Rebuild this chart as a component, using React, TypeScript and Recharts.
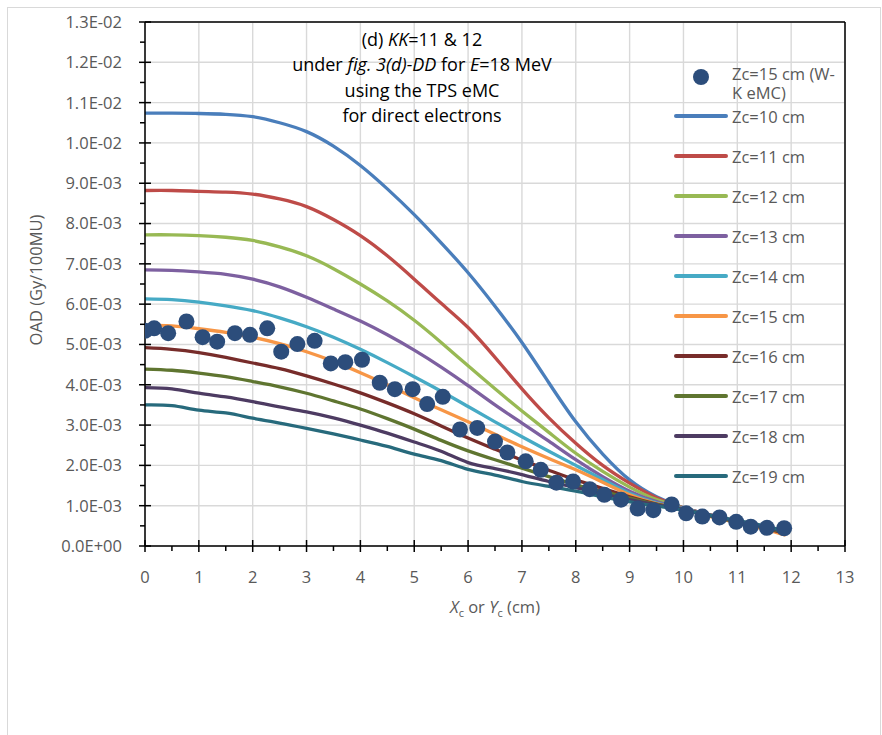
import React from "react";
import {
  CartesianGrid,
  ComposedChart,
  Label,
  Line,
  ReferenceLine,
  Scatter,
  XAxis,
  YAxis
} from "recharts";

const FONT = "'Open Sans', 'Noto Sans', sans-serif";
const TEXT = "#595959";

// OAD values are kept in units of 1E-03 Gy/100MU
const curveX = [0, 0.5, 1, 1.5, 2, 2.5, 3, 3.5, 4, 4.5, 5, 5.5, 6, 6.5, 7, 7.5, 8, 8.5, 9, 9.5, 10, 10.5, 11, 11.5, 11.9];

const zc10 = [10.74, 10.74, 10.73, 10.71, 10.65, 10.5, 10.28, 9.92, 9.44, 8.86, 8.22, 7.52, 6.78, 5.95, 5.05, 4.05, 3.08, 2.28, 1.64, 1.22, 0.95, 0.77, 0.6, 0.45, 0.31];
const zc11 = [8.82, 8.82, 8.8, 8.78, 8.73, 8.61, 8.42, 8.1, 7.7, 7.2, 6.62, 6.02, 5.42, 4.68, 3.9, 3.18, 2.55, 2.0, 1.56, 1.2, 0.95, 0.77, 0.6, 0.45, 0.3];
const zc12 = [7.72, 7.72, 7.7, 7.66, 7.58, 7.42, 7.2, 6.88, 6.5, 6.08, 5.6, 5.05, 4.47, 3.9, 3.35, 2.82, 2.3, 1.85, 1.46, 1.15, 0.94, 0.76, 0.6, 0.45, 0.3];
const zc13 = [6.85, 6.84, 6.8, 6.74, 6.62, 6.43, 6.17, 5.88, 5.58, 5.24, 4.86, 4.44, 3.98, 3.5, 3.05, 2.6, 2.14, 1.72, 1.36, 1.1, 0.93, 0.76, 0.6, 0.45, 0.3];
const zc14 = [6.13, 6.11, 6.05, 5.96, 5.84, 5.66, 5.44, 5.18, 4.88, 4.55, 4.2, 3.84, 3.46, 3.08, 2.71, 2.35, 2.0, 1.65, 1.31, 1.07, 0.92, 0.76, 0.6, 0.45, 0.3];
const zc15 = [5.48, 5.46, 5.39, 5.3, 5.18, 5.02, 4.82, 4.58, 4.3, 4.0, 3.68, 3.38, 3.08, 2.77, 2.46, 2.17, 1.89, 1.58, 1.27, 1.05, 0.9, 0.73, 0.58, 0.42, 0.27];
const zc16 = [4.92, 4.88, 4.8, 4.68, 4.54, 4.4, 4.22, 4.02, 3.8, 3.55, 3.28, 2.98, 2.68, 2.4, 2.13, 1.88, 1.64, 1.43, 1.22, 1.04, 0.9, 0.75, 0.6, 0.45, 0.31];
const zc17 = [4.39, 4.36, 4.29, 4.2, 4.08, 3.95, 3.79, 3.6, 3.4, 3.16, 2.9, 2.62, 2.36, 2.14, 1.93, 1.72, 1.52, 1.35, 1.19, 1.03, 0.9, 0.75, 0.6, 0.46, 0.32];
const zc18 = [3.93, 3.9, 3.79, 3.7, 3.58, 3.45, 3.33, 3.18, 3.0, 2.8, 2.58, 2.35, 2.07, 1.92, 1.77, 1.6, 1.45, 1.3, 1.15, 1.02, 0.9, 0.76, 0.62, 0.48, 0.34];
const zc19 = [3.5, 3.48, 3.37, 3.3, 3.17, 3.05, 2.92, 2.78, 2.63, 2.47, 2.28, 2.12, 1.9, 1.76, 1.6, 1.48, 1.36, 1.22, 1.1, 0.99, 0.89, 0.76, 0.63, 0.5, 0.36];

// W-K eMC points at Zc=15 cm
const wkX = [0, 0.17, 0.43, 0.77, 1.07, 1.34, 1.67, 1.95, 2.27, 2.53, 2.83, 3.15, 3.45, 3.72, 4.03, 4.36, 4.64, 4.97, 5.24, 5.53, 5.85, 6.17, 6.5, 6.73, 7.07, 7.35, 7.64, 7.95, 8.26, 8.53, 8.84, 9.15, 9.44, 9.78, 10.05, 10.35, 10.67, 10.98, 11.25, 11.55, 11.87];
const wkY = [5.34, 5.4, 5.28, 5.57, 5.18, 5.07, 5.28, 5.24, 5.4, 4.82, 5.01, 5.09, 4.53, 4.56, 4.62, 4.05, 3.89, 3.89, 3.52, 3.7, 2.89, 2.93, 2.59, 2.32, 2.1, 1.89, 1.57, 1.6, 1.41, 1.27, 1.15, 0.93, 0.89, 1.03, 0.81, 0.73, 0.71, 0.6, 0.48, 0.45, 0.44];

const seriesNames = ["Zc=10 cm", "Zc=11 cm", "Zc=12 cm", "Zc=13 cm", "Zc=14 cm", "Zc=15 cm", "Zc=16 cm", "Zc=17 cm", "Zc=18 cm", "Zc=19 cm"];
const seriesColors = ["#4A7EBB", "#BE4B48", "#98B954", "#7D60A0", "#46AAC5", "#F79646", "#772C2A", "#5F7530", "#4D3B62", "#276A7C"];
const seriesValues = [zc10, zc11, zc12, zc13, zc14, zc15, zc16, zc17, zc18, zc19];
const scatterName = "Zc=15 cm (W-K eMC)";
const scatterColor = "#2C4D7B";

const xTicks = [0, 0.5, 1, 1.5, 2, 2.5, 3, 3.5, 4, 4.5, 5, 5.5, 6, 6.5, 7, 7.5, 8, 8.5, 9, 9.5, 10, 10.5, 11, 11.5, 12, 12.5, 13];
const xMajor = [0, 1, 2, 3, 4, 5, 6, 7, 8, 9, 10, 11, 12, 13];
const yTicks = [0, 0.5, 1, 1.5, 2, 2.5, 3, 3.5, 4, 4.5, 5, 5.5, 6, 6.5, 7, 7.5, 8, 8.5, 9, 9.5, 10, 10.5, 11, 11.5, 12, 12.5, 13];
const yMajor = [0, 1, 2, 3, 4, 5, 6, 7, 8, 9, 10, 11, 12, 13];

const curveTable = curveX.map((x, i) => {
  const row: Record<string, number> = { x };
  seriesValues.forEach((vals, s) => {
    row[`s${s}`] = vals[i];
  });
  return row;
});

const scatterTable = wkX.map((x, i) => ({ x, y: wkY[i] }));

function formatOad(v: number): string {
  return (v / 1000)
    .toExponential(1)
    .toUpperCase()
    .replace(/E([+-])(\d)$/, "E$10$2");
}

function XTick(props: any) {
  const { x, y, payload } = props;
  const major = Number.isInteger(payload.value);
  return (
    <g>
      <line x1={x} x2={x} y1={major ? y - 6 : y} y2={major ? y + 6 : y + 5} stroke="#000" strokeWidth={1.5} />
      {major && (
        <text x={x} y={y + 37} textAnchor="middle" fill={TEXT} fontSize={16.5} fontFamily={FONT}>
          {payload.value}
        </text>
      )}
    </g>
  );
}

function YTick(props: any) {
  const { x, y, payload } = props;
  const major = Number.isInteger(payload.value);
  return (
    <g>
      <line x1={major ? x - 6 : x - 5} x2={major ? x + 6 : x} y1={y} y2={y} stroke="#000" strokeWidth={1.5} />
      {major && (
        <text x={x - 23} y={y} dy="0.36em" textAnchor="end" fill={TEXT} fontSize={16.5} fontFamily={FONT}>
          {formatOad(payload.value)}
        </text>
      )}
    </g>
  );
}

function XTitle(props: any) {
  const vb = props.viewBox;
  return (
    <text x={vb.x + vb.width / 2} y={vb.y + 67} textAnchor="middle" fill={TEXT} fontSize={16.5} fontFamily={FONT}>
      <tspan fontStyle="italic">X</tspan>
      <tspan fontSize={11} dy={4}>c</tspan>
      <tspan dy={-4}> or </tspan>
      <tspan fontStyle="italic">Y</tspan>
      <tspan fontSize={11} dy={4}>c</tspan>
      <tspan dy={-4}> (cm)</tspan>
    </text>
  );
}

function YTitle(props: any) {
  const vb = props.viewBox;
  const cx = vb.x + 36;
  const cy = vb.y + vb.height / 2 - 4;
  return (
    <text x={cx} y={cy} dy="0.36em" textAnchor="middle" transform={`rotate(-90 ${cx} ${cy})`} fill={TEXT} fontSize={16.5} fontFamily={FONT}>
      OAD (Gy/100MU)
    </text>
  );
}

function Dot(props: any) {
  return <circle cx={props.cx} cy={props.cy} r={8} fill={scatterColor} />;
}

export default function App() {
  return (
    <div style={{ position: "fixed", left: 0, top: 0, width: 882, height: 735, overflow: "hidden", background: "#fff", fontFamily: FONT }}>
      <div style={{ position: "absolute", left: 7, top: 7, width: 874, height: 760, border: "1px solid #D9D9D9", boxSizing: "border-box" }} />
      <ComposedChart
        width={882}
        height={735}
        data={curveTable}
        margin={{ top: 22, right: 37, bottom: 129, left: 0 }}
        style={{ position: "absolute", left: 0, top: 0 }}
      >
        <CartesianGrid
          stroke="#D9D9D9"
          strokeWidth={1.4}
          verticalValues={xMajor}
          horizontalValues={yMajor}
        />
        <XAxis
          dataKey="x"
          type="number"
          domain={[0, 13]}
          ticks={xTicks}
          interval={0}
          allowDataOverflow
          height={60}
          tickSize={0}
          tickMargin={0}
          tick={<XTick />}
          axisLine={{ stroke: "#000", strokeWidth: 1.5 }}
          tickLine={false}
        >
          <Label content={<XTitle />} />
        </XAxis>
        <YAxis
          type="number"
          domain={[0, 13]}
          ticks={yTicks}
          interval={0}
          allowDataOverflow
          width={145}
          tickSize={0}
          tickMargin={0}
          tick={<YTick />}
          axisLine={{ stroke: "#000", strokeWidth: 1.5 }}
          tickLine={false}
        >
          <Label content={<YTitle />} />
        </YAxis>
        <ReferenceLine y={13} stroke="#000" strokeWidth={1.5} />
        <ReferenceLine x={13} stroke="#000" strokeWidth={1.5} />
        <Scatter data={scatterTable} dataKey="y" name={scatterName} shape={<Dot />} isAnimationActive={false} />
        {seriesNames.map((name, i) => (
          <Line
            key={name}
            type="natural"
            dataKey={`s${i}`}
            name={name}
            stroke={seriesColors[i]}
            strokeWidth={3.3}
            dot={false}
            activeDot={false}
            isAnimationActive={false}
          />
        ))}
      </ComposedChart>

      <div style={{ position: "absolute", left: 262, top: 27, width: 320, textAlign: "center", fontSize: 18, lineHeight: "25.3px", color: "#000" }}>
        <div>(d) <i>KK</i>=11 &amp; 12</div>
        <div>under <i>fig. 3(d)-DD</i> for <i>E</i>=18 MeV</div>
        <div>using the TPS eMC</div>
        <div>for direct electrons</div>
      </div>

      <div style={{ position: "absolute", left: 674, top: 65, fontSize: 16.5, color: TEXT }}>
        <div style={{ position: "relative", height: 31 }}>
          <span style={{ position: "absolute", left: 19, top: 4, width: 16, height: 16, borderRadius: 8, background: scatterColor }} />
          <div style={{ position: "absolute", left: 58, top: -1, lineHeight: "19px", whiteSpace: "nowrap" }}>
            Zc=15 cm (W-
            <br />
            K eMC)
          </div>
        </div>
        {seriesNames.map((name, i) => (
          <div key={name} style={{ height: 40, display: "flex", alignItems: "center" }}>
            <span style={{ display: "inline-block", width: 54, height: 4, borderRadius: 2, background: seriesColors[i] }} />
            <span style={{ marginLeft: 4, whiteSpace: "nowrap" }}>{name}</span>
          </div>
        ))}
      </div>
    </div>
  );
}
